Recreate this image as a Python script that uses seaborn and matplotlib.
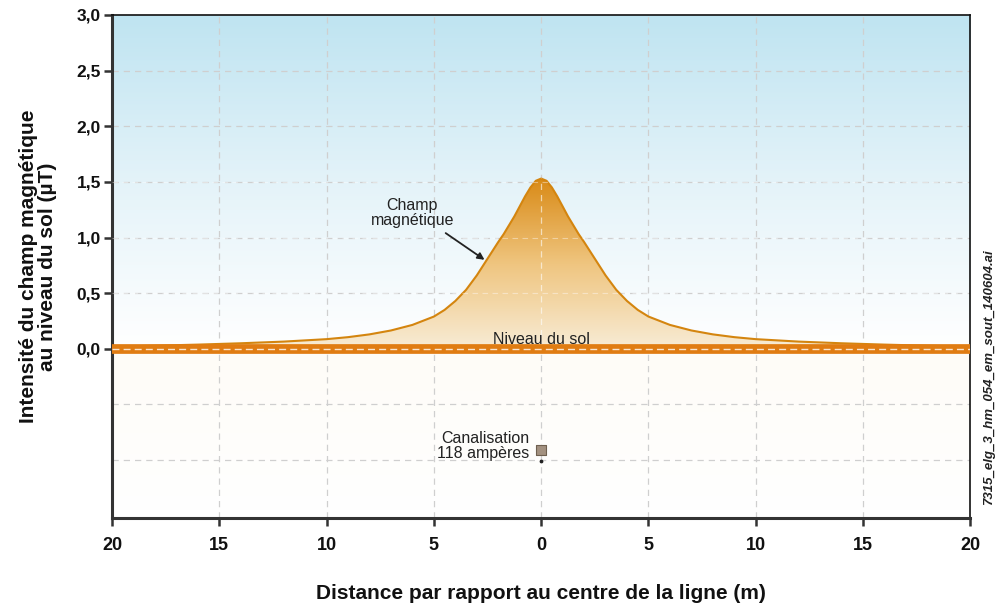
import numpy as np
import pandas as pd
import seaborn as sns
import matplotlib.pyplot as plt
from matplotlib.colors import LinearSegmentedColormap

# distance from the line centre (m) and field at ground level (µT)
left_dist = [-20, -18, -16, -14, -12, -10, -9, -8, -7, -6, -5, -4.5, -4, -3.5, -3, -2.5,
             -2, -1.75, -1.5, -1.25, -1, -0.75, -0.5, -0.25]
left_field = [0.02, 0.028, 0.038, 0.05, 0.065, 0.087, 0.105, 0.13, 0.165, 0.215, 0.29, 0.35,
              0.43, 0.53, 0.66, 0.81, 0.96, 1.03, 1.11, 1.19, 1.28, 1.37, 1.45, 1.51]
peak_field = 1.53
# the profile is symmetric about the line centre
distance = left_dist + [0] + [-d for d in left_dist[::-1]]
field = left_field + [peak_field] + left_field[::-1]

x_ticks = [-20, -15, -10, -5, 0, 5, 10, 15, 20]
x_labels = ["20", "15", "10", "5", "0", "5", "10", "15", "20"]
y_ticks = [0.0, 0.5, 1.0, 1.5, 2.0, 2.5, 3.0]
y_labels = ["0,0", "0,5", "1,0", "1,5", "2,0", "2,5", "3,0"]
grid_y = [-1.0, -0.5, 0.5, 1.0, 1.5, 2.0, 2.5]

pipe_pos = (0, -0.91)

df = pd.DataFrame({"distance": distance, "field": field})

sns.set_style("white")
plt.rcParams['font.family'] = ['Liberation Sans', 'DejaVu Sans']

fig = plt.figure(figsize=(9.97, 6.04), dpi=100)
ax = fig.add_axes([0.1123, 0.1424, 0.8610, 0.8328])
ax.set_xlim(-20, 20)
ax.set_ylim(-1.52, 3.0)

# sky gradient above ground
sky = LinearSegmentedColormap.from_list("sky", ["#ffffff", "#e4f3f9", "#bfe4f1"])
grad = np.linspace(0, 1, 256).reshape(-1, 1)
ax.imshow(grad, extent=[-20, 20, 0, 3.0], origin="lower", cmap=sky, aspect="auto", zorder=0)
under = LinearSegmentedColormap.from_list("under", ["#ffffff", "#fefcf7"])
ax.imshow(grad, extent=[-20, 20, -1.52, 0], origin="lower", cmap=under, aspect="auto", zorder=0)

# grid
for gy in grid_y:
    ax.axhline(gy, color="#cfcfcf", lw=0.9, ls=(0, (5, 4)), zorder=1)
for gx in x_ticks[1:-1]:
    ax.axvline(gx, color="#cfcfcf", lw=0.9, ls=(0, (5, 4)), zorder=1)

# orange gradient under the field curve
poly = ax.fill_between(df["distance"], df["field"], 0, color="none", zorder=2)
fire = LinearSegmentedColormap.from_list("fire", ["#f8ecd6", "#efc57f", "#d98a16"])
img = ax.imshow(np.linspace(0, 1, 256).reshape(-1, 1), extent=[-20, 20, 0, peak_field], origin="lower",
                cmap=fire, aspect="auto", zorder=2)
img.set_clip_path(poly.get_paths()[0], transform=ax.transData)

sns.lineplot(data=df, x="distance", y="field", color="#d4850f", lw=1.5, ax=ax, zorder=3)

# faint grid lines showing through the fill
ax.axvline(0, ymin=0.34, ymax=0.675, color="#ffffff", lw=0.9, ls=(0, (5, 4)), alpha=0.6, zorder=3)
for gy in [0.5, 1.0, 1.5]:
    ax.axhline(gy, color="#ffffff", lw=0.8, ls=(0, (5, 4)), alpha=0.4, zorder=3)

# ground level
ax.axhline(0, color="#e07c12", lw=7, zorder=4)
ax.axhline(0, color="#ffffff", lw=1, ls=(0, (5, 3)), alpha=0.8, zorder=5)

ax.text(0, 0.02, "Niveau du sol", ha="center", va="bottom", fontsize=11.5, color="#222222", zorder=6)
ax.text(-6.0, 1.22, "Champ\nmagnétique", ha="center", va="center", fontsize=11.5, color="#222222",
        linespacing=0.95, zorder=6)
ax.annotate("", xy=(-2.64, 0.80), xytext=(-4.45, 1.04),
            arrowprops=dict(arrowstyle="-|>", color="#222222", lw=1.3, shrinkA=0, shrinkB=0),
            zorder=6)

# pipe
ax.scatter([pipe_pos[0]], [pipe_pos[1]], marker="s", s=60, color="#a39180",
           edgecolor="#6f6050", lw=0.8, zorder=6)
ax.scatter([pipe_pos[0]], [pipe_pos[1] - 0.10], marker="o", s=3, color="#222222", zorder=6)
ax.text(-0.55, -0.875, "Canalisation\n118 ampères", ha="right", va="center",
        fontsize=11.5, color="#222222", linespacing=1.0, zorder=6)

ax.set_xticks(x_ticks)
ax.set_xticklabels(x_labels, fontweight="bold", fontsize=13)
ax.set_yticks(y_ticks)
ax.set_yticklabels(y_labels, fontweight="bold", fontsize=12.5)
ax.tick_params(axis="both", bottom=True, left=True, length=6, width=1.8, color="#333333",
               direction="out", labelcolor="#111111")
ax.tick_params(axis="x", pad=8)
ax.tick_params(axis="y", pad=2)

for side in ["left", "bottom"]:
    ax.spines[side].set_linewidth(2.2)
    ax.spines[side].set_color("#333333")
for side in ["top", "right"]:
    ax.spines[side].set_linewidth(1.2)
    ax.spines[side].set_color("#111111")

ax.set_xlabel("Distance par rapport au centre de la ligne (m)", fontsize=15, fontweight="bold",
              labelpad=21, color="#111111")
ax.set_ylabel("Intensité du champ magnétique\nau niveau du sol (µT)", fontsize=15, fontweight="bold",
              labelpad=14, linespacing=1.0, color="#111111")

fig.text(0.992, 0.375, "7315_elg_3_hm_054_em_sout_140604.ai", rotation=90, ha="center", va="center",
         fontsize=9.5, fontweight="bold", fontstyle="italic", color="#222222")

fig.savefig("out.png", dpi=100)
plt.close()
